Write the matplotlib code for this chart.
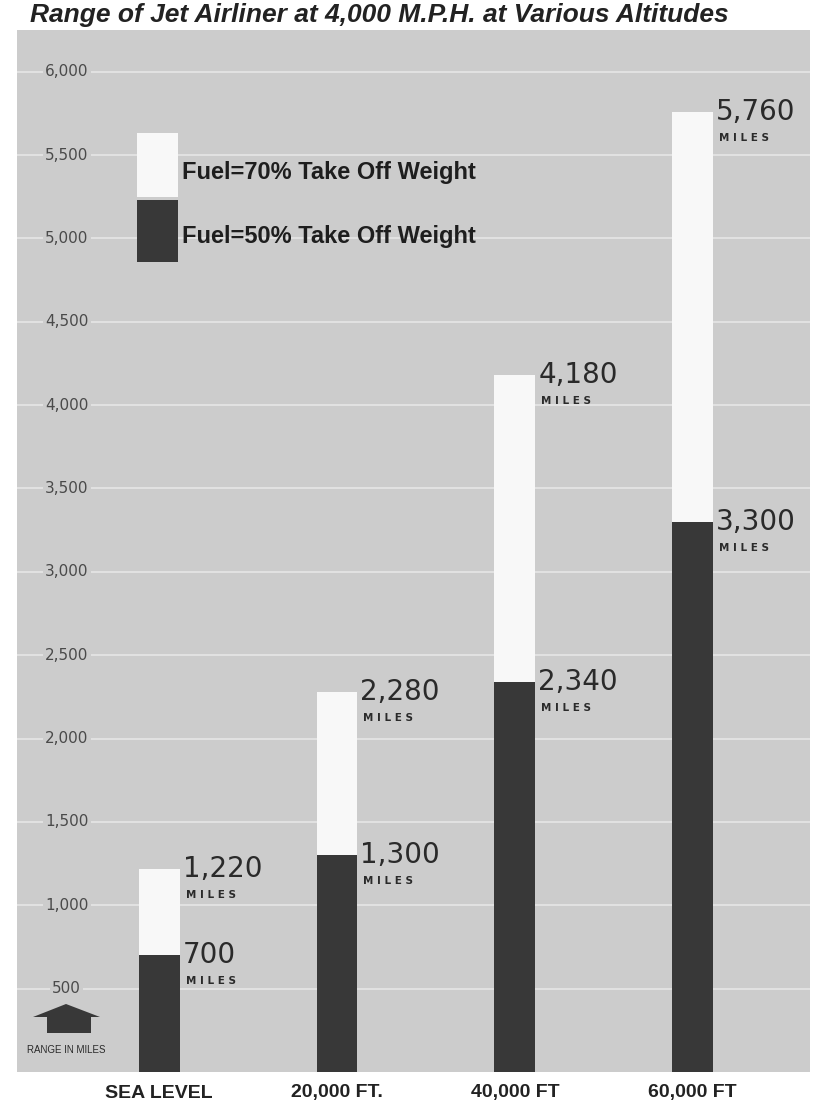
import matplotlib.pyplot as plt
from matplotlib.patches import Polygon, Rectangle

# data
altitudes = ["SEA LEVEL", "20,000 FT.", "40,000 FT", "60,000 FT"]
range_70 = [1220, 2280, 4180, 5760]   # fuel = 70% take off weight
range_50 = [700, 1300, 2340, 3300]    # fuel = 50% take off weight
yticks = [500, 1000, 1500, 2000, 2500, 3000, 3500, 4000, 4500, 5000, 5500, 6000]
ytick_labels = ["500", "1,000", "1,500", "2,000", "2,500", "3,000", "3,500",
                "4,000", "4,500", "5,000", "5,500", "6,000"]

BG = "#cccccc"
DARK = "#383838"
LIGHT = "#f8f8f8"
NARROW = ["Liberation Sans Narrow", "DejaVu Sans Condensed", "Liberation Sans", "DejaVu Sans"]

W, H = 818, 1111
fig = plt.figure(figsize=(W / 100, H / 100), dpi=100)
fig.patch.set_facecolor("white")
ax = fig.add_axes([17 / W, 1 - 1072 / H, 793 / W, 1042 / H])
ax.set_facecolor(BG)
for s in ax.spines.values():
    s.set_visible(False)
ax.set_xlim(-0.80, 3.66)
ax.set_ylim(0, 6250)
ax.set_xticks([])
ax.set_yticks([])

# faint white grid
for v in yticks:
    ax.axhline(v, color="white", lw=1.2, alpha=0.5, zorder=1)

# tick labels inside the plot
for v, lab in zip(yticks, ytick_labels):
    ax.text(-0.52, v, lab, ha="center", va="center", fontsize=11, color="#4a4a4a",
            zorder=2, bbox=dict(facecolor=BG, edgecolor="none", pad=1.5))

x = range(len(altitudes))
bw = 0.23
ax.bar(x, range_70, width=bw, color=LIGHT, zorder=3)
ax.bar(x, range_50, width=bw, color=DARK, zorder=4)


def value_label(xi, v):
    ax.annotate(f"{v:,}", (xi + bw / 2, v), xytext=(3, 0), textcoords="offset pixels",
                ha="left", va="center", fontsize=20, color="#2a2a2a", zorder=5)
    ax.annotate("M I L E S", (xi + bw / 2, v), xytext=(6, -26), textcoords="offset pixels",
                ha="left", va="center", fontsize=7.5, fontweight="bold", color="#2a2a2a",
                zorder=5)


for xi, v in zip(x, range_70):
    value_label(xi, v)
for xi, v in zip(x, range_50):
    value_label(xi, v)

# x category labels
for xi, lab in zip(x, altitudes):
    ax.annotate(lab, (xi, 0), xytext=(0, -21), textcoords="offset pixels",
                ha="center", va="center", fontsize=14, fontweight="bold",
                family=NARROW, color="#222222", annotation_clip=False)


# legend and marker placed in figure pixel space
def px(xp, yp):
    return ((xp - 17) / 793, (1072 - yp) / 1042)


ax.add_patch(Rectangle(px(137, 197), 41 / 793, 64 / 1042, transform=ax.transAxes,
                       facecolor=LIGHT, edgecolor="none", zorder=5))
ax.add_patch(Rectangle(px(137, 262), 41 / 793, 62 / 1042, transform=ax.transAxes,
                       facecolor=DARK, edgecolor="none", zorder=5))
ax.text(*px(182, 172), "Fuel=70% Take Off Weight", transform=ax.transAxes, ha="left",
        va="center", fontsize=17, fontweight="bold", family=NARROW, color="#1e1e1e")
ax.text(*px(182, 237), "Fuel=50% Take Off Weight", transform=ax.transAxes, ha="left",
        va="center", fontsize=17, fontweight="bold", family=NARROW, color="#1e1e1e")

arrow_pts = [px(33, 1017), px(66, 1004), px(100, 1017), px(91, 1017), px(91, 1033),
             px(47, 1033), px(47, 1017)]
ax.add_patch(Polygon(arrow_pts, closed=True, transform=ax.transAxes,
                     facecolor=DARK, edgecolor="none", zorder=5))
ax.text(*px(66, 1050), "RANGE IN MILES", transform=ax.transAxes, ha="center",
        va="center", fontsize=7, family=NARROW, color="#2a2a2a")

# title in the white strip above the plot
fig.text(30 / W, 1 - 3 / H, "Range of Jet Airliner at 4,000 M.P.H. at Various Altitudes",
         ha="left", va="top", fontsize=19, fontweight="bold", style="italic",
         family=NARROW, color="#222222")

fig.savefig("out.png", dpi=100, facecolor="white")
